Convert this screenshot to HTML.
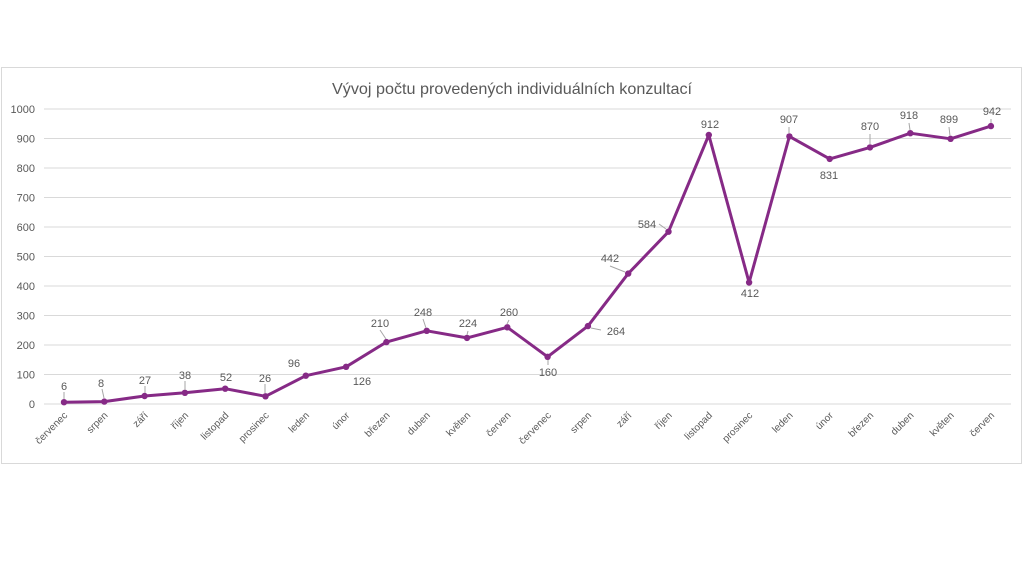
<!DOCTYPE html>
<html><head><meta charset="utf-8"><style>body{margin:0;background:#fff}svg{display:block}</style></head>
<body>
<svg width="1024" height="585" xmlns="http://www.w3.org/2000/svg" font-family="Liberation Sans, sans-serif">
<rect x="0" y="0" width="1024" height="585" fill="#fff"/>
<rect x="1.5" y="67.5" width="1020" height="396" fill="#fff" stroke="#d9d9d9" stroke-width="1"/>
<text x="512" y="94" text-anchor="middle" font-size="16" fill="#595959" textLength="360" lengthAdjust="spacingAndGlyphs">Vývoj počtu provedených individuálních konzultací</text>
<g stroke="#d9d9d9" stroke-width="1">
<line x1="44" x2="1011" y1="109" y2="109"/><line x1="44" x2="1011" y1="138.5" y2="138.5"/><line x1="44" x2="1011" y1="168" y2="168"/><line x1="44" x2="1011" y1="197.5" y2="197.5"/><line x1="44" x2="1011" y1="227" y2="227"/><line x1="44" x2="1011" y1="256.5" y2="256.5"/><line x1="44" x2="1011" y1="286" y2="286"/><line x1="44" x2="1011" y1="315.5" y2="315.5"/><line x1="44" x2="1011" y1="345" y2="345"/><line x1="44" x2="1011" y1="374.5" y2="374.5"/><line x1="44" x2="1011" y1="404" y2="404"/>
</g>
<g font-size="11" fill="#595959" text-anchor="end">
<text x="35" y="113">1000</text><text x="35" y="142.5">900</text><text x="35" y="172">800</text><text x="35" y="201.5">700</text><text x="35" y="231">600</text><text x="35" y="260.5">500</text><text x="35" y="290">400</text><text x="35" y="319.5">300</text><text x="35" y="349">200</text><text x="35" y="378.5">100</text><text x="35" y="408">0</text>
</g>
<polyline fill="none" stroke="#862a86" stroke-width="3" stroke-linejoin="round" points="64,402.2 104.3,401.6 144.6,396 184.9,392.8 225.2,388.7 265.5,396.3 305.8,375.7 346.1,366.8 386.4,342.1 426.7,330.8 467,337.9 507.3,327.3 547.6,356.8 587.9,326.1 628.2,273.6 668.5,231.7 708.8,135 749.1,282.5 789.4,136.4 829.7,158.9 870,147.4 910.3,133.2 950.6,138.8 990.9,126.1"/>
<g fill="#862a86">
<circle cx="64" cy="402.2" r="3.2"/><circle cx="104.3" cy="401.6" r="3.2"/><circle cx="144.6" cy="396" r="3.2"/><circle cx="184.9" cy="392.8" r="3.2"/><circle cx="225.2" cy="388.7" r="3.2"/><circle cx="265.5" cy="396.3" r="3.2"/><circle cx="305.8" cy="375.7" r="3.2"/><circle cx="346.1" cy="366.8" r="3.2"/><circle cx="386.4" cy="342.1" r="3.2"/><circle cx="426.7" cy="330.8" r="3.2"/><circle cx="467" cy="337.9" r="3.2"/><circle cx="507.3" cy="327.3" r="3.2"/><circle cx="547.6" cy="356.8" r="3.2"/><circle cx="587.9" cy="326.1" r="3.2"/><circle cx="628.2" cy="273.6" r="3.2"/><circle cx="668.5" cy="231.7" r="3.2"/><circle cx="708.8" cy="135" r="3.2"/><circle cx="749.1" cy="282.5" r="3.2"/><circle cx="789.4" cy="136.4" r="3.2"/><circle cx="829.7" cy="158.9" r="3.2"/><circle cx="870" cy="147.4" r="3.2"/><circle cx="910.3" cy="133.2" r="3.2"/><circle cx="950.6" cy="138.8" r="3.2"/><circle cx="990.9" cy="126.1" r="3.2"/>
</g>
<g stroke="#a6a6a6" stroke-width="1">
<line x1="64" y1="392" x2="64" y2="399"/><line x1="102" y1="389" x2="104" y2="398"/><line x1="145" y1="386" x2="145" y2="393"/><line x1="185" y1="381" x2="185" y2="390"/><line x1="265" y1="384" x2="265" y2="393"/><line x1="380" y1="330" x2="386" y2="339"/><line x1="423" y1="319" x2="426" y2="328"/><line x1="468" y1="331" x2="467" y2="335"/><line x1="509" y1="320" x2="507" y2="324"/><line x1="548" y1="360" x2="548" y2="365"/><line x1="591" y1="328" x2="601" y2="330"/><line x1="610" y1="266" x2="625" y2="272"/><line x1="659" y1="224" x2="666" y2="229"/><line x1="789" y1="127" x2="789" y2="133"/><line x1="870" y1="134" x2="870" y2="144"/><line x1="909" y1="123" x2="910" y2="130"/><line x1="949" y1="127" x2="950" y2="136"/><line x1="991" y1="119" x2="991" y2="123"/>
</g>
<g font-size="11" fill="#595959" text-anchor="middle">
<text x="64" y="390">6</text><text x="101" y="387">8</text><text x="145" y="384">27</text><text x="185" y="379">38</text><text x="226" y="381">52</text><text x="265" y="382">26</text><text x="294" y="367">96</text><text x="362" y="385">126</text><text x="380" y="327">210</text><text x="423" y="316">248</text><text x="468" y="327">224</text><text x="509" y="316">260</text><text x="548" y="376">160</text><text x="616" y="335">264</text><text x="610" y="262">442</text><text x="647" y="228">584</text><text x="710" y="128">912</text><text x="750" y="297">412</text><text x="789" y="123">907</text><text x="829" y="179">831</text><text x="870" y="130">870</text><text x="909" y="119">918</text><text x="949" y="123">899</text><text x="992" y="115">942</text>
</g>
<g font-size="10" fill="#595959" text-anchor="end">
<text transform="translate(68,416) rotate(-45)">červenec</text><text transform="translate(108.3,416) rotate(-45)">srpen</text><text transform="translate(148.6,416) rotate(-45)">září</text><text transform="translate(188.9,416) rotate(-45)">říjen</text><text transform="translate(229.2,416) rotate(-45)">listopad</text><text transform="translate(269.5,416) rotate(-45)">prosinec</text><text transform="translate(309.8,416) rotate(-45)">leden</text><text transform="translate(350.1,416) rotate(-45)">únor</text><text transform="translate(390.4,416) rotate(-45)">březen</text><text transform="translate(430.7,416) rotate(-45)">duben</text><text transform="translate(471,416) rotate(-45)">květen</text><text transform="translate(511.3,416) rotate(-45)">červen</text><text transform="translate(551.6,416) rotate(-45)">červenec</text><text transform="translate(591.9,416) rotate(-45)">srpen</text><text transform="translate(632.2,416) rotate(-45)">září</text><text transform="translate(672.5,416) rotate(-45)">říjen</text><text transform="translate(712.8,416) rotate(-45)">listopad</text><text transform="translate(753.1,416) rotate(-45)">prosinec</text><text transform="translate(793.4,416) rotate(-45)">leden</text><text transform="translate(833.7,416) rotate(-45)">únor</text><text transform="translate(874,416) rotate(-45)">březen</text><text transform="translate(914.3,416) rotate(-45)">duben</text><text transform="translate(954.6,416) rotate(-45)">květen</text><text transform="translate(994.9,416) rotate(-45)">červen</text>
</g>
</svg>
</body></html>
